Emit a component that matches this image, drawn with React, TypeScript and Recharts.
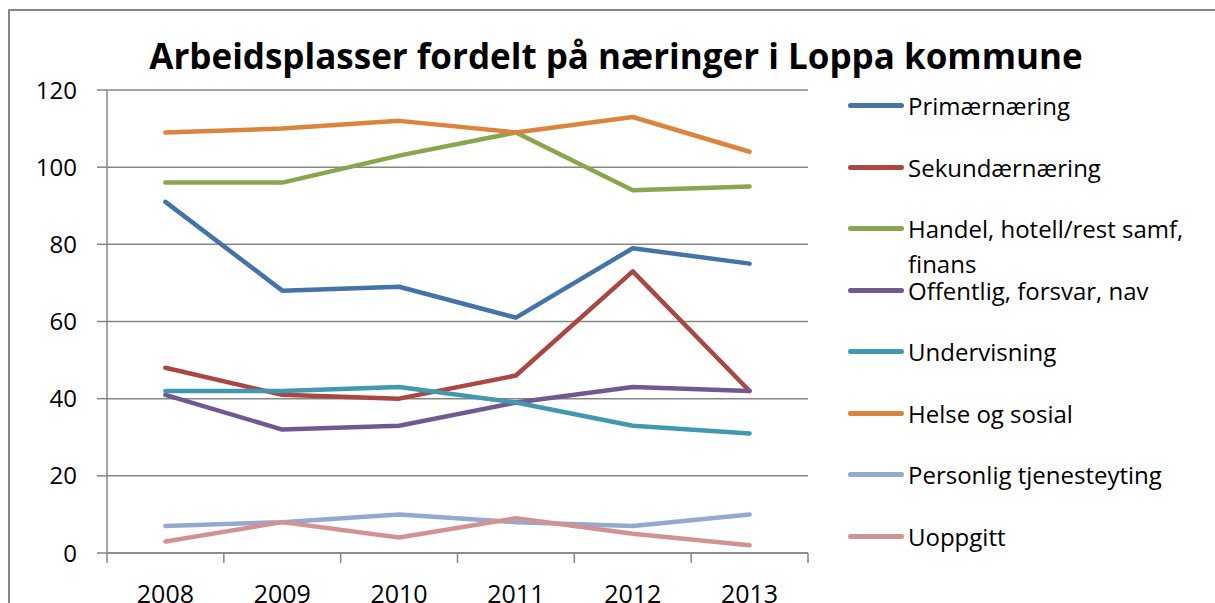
import React from 'react';
import { LineChart, Line, XAxis, YAxis, CartesianGrid } from 'recharts';

const YEARS = ['2008', '2009', '2010', '2011', '2012', '2013'];

const SERIES_NAMES = [
  'Primærnæring',
  'Sekundærnæring',
  'Handel, hotell/rest samf, finans',
  'Offentlig, forsvar, nav',
  'Undervisning',
  'Helse og sosial',
  'Personlig tjenesteyting',
  'Uoppgitt',
];

const primaer = [91, 68, 69, 61, 79, 75];
const sekundaer = [48, 41, 40, 46, 73, 42];
const handel = [96, 96, 103, 109, 94, 95];
const offentlig = [41, 32, 33, 39, 43, 42];
const undervisning = [42, 42, 43, 39, 33, 31];
const helse = [109, 110, 112, 109, 113, 104];
const personlig = [7, 8, 10, 8, 7, 10];
const uoppgitt = [3, 8, 4, 9, 5, 2];

const Y_TICKS = [0, 20, 40, 60, 80, 100, 120];

const COLORS = ['#4572A7', '#AA4643', '#89A54E', '#71588F', '#4198AF', '#DB843D', '#93A9CF', '#D19392'];
const SERIES_VALUES = [primaer, sekundaer, handel, offentlig, undervisning, helse, personlig, uoppgitt];
const KEYS = ['s0', 's1', 's2', 's3', 's4', 's5', 's6', 's7'];

const data = YEARS.map((year, i) => {
  const row: Record<string, string | number> = { year };
  SERIES_VALUES.forEach((vals, s) => {
    row[KEYS[s]] = vals[i];
  });
  return row;
});

const FONT = '"Open Sans", sans-serif';
const GRID = '#868686';

const W = 1215;
const H = 603;
const MARGIN = { top: 90, right: 407, bottom: 0, left: 0 };
const Y_AXIS_W = 107;
const X_AXIS_H = 50;
const PLOT_BOTTOM = H - MARGIN.bottom - X_AXIS_H;
const BAND = (W - MARGIN.left - MARGIN.right - Y_AXIS_W) / YEARS.length;

// year label plus Excel-style tick marks on the band edges
const YearTick = (props: any) => {
  const { x, payload, index } = props;
  const left = x - BAND / 2;
  return (
    <g>
      <line x1={left} x2={left} y1={PLOT_BOTTOM} y2={PLOT_BOTTOM + 10} stroke={GRID} strokeWidth={1.5} />
      {index === YEARS.length - 1 && (
        <line x1={x + BAND / 2} x2={x + BAND / 2} y1={PLOT_BOTTOM} y2={PLOT_BOTTOM + 10} stroke={GRID} strokeWidth={1.5} />
      )}
      <text x={x} y={PLOT_BOTTOM + 50} textAnchor="middle" fill="#000" fontSize={25} fontFamily={FONT}>
        {payload.value}
      </text>
    </g>
  );
};

const LegendList = () => (
  <div style={{ position: 'absolute', left: 848, top: 88, fontFamily: FONT, fontSize: 24, color: '#000' }}>
    {SERIES_NAMES.map((name, i) => (
      <div
        key={name}
        style={{ position: 'absolute', left: 0, top: i * 61.5, display: 'flex', alignItems: 'flex-start', width: 370 }}
      >
        <div
          style={{
            width: 56,
            height: 5,
            borderRadius: 3,
            background: COLORS[i],
            marginTop: 15,
            flexShrink: 0,
          }}
        />
        <div style={{ marginLeft: 4, lineHeight: '35px', width: 300, whiteSpace: 'normal' }}>{name}</div>
      </div>
    ))}
  </div>
);

export default function App() {
  return (
    <div style={{ position: 'absolute', left: 0, top: 0, width: W, height: H, background: '#fff', overflow: 'hidden' }}>
      <div
        style={{
          position: 'absolute',
          left: 8,
          top: 9,
          width: 1250,
          height: 700,
          borderTop: `2px solid ${GRID}`,
          borderLeft: `2px solid ${GRID}`,
        }}
      />
      <div
        style={{
          position: 'absolute',
          left: 0,
          width: 1232,
          top: 31,
          textAlign: 'center',
          fontFamily: FONT,
          fontWeight: 700,
          fontSize: 35,
          color: '#000',
          lineHeight: '50px',
        }}
      >
        Arbeidsplasser fordelt på næringer i Loppa kommune
      </div>
      <div style={{ position: 'absolute', left: 0, top: 0 }}>
        <LineChart width={W} height={H} data={data} margin={MARGIN}>
          <CartesianGrid vertical={false} stroke={GRID} strokeWidth={1.5} />
          <XAxis
            dataKey="year"
            scale="band"
            height={X_AXIS_H}
            axisLine={{ stroke: GRID, strokeWidth: 1.5 }}
            tickLine={false}
            interval={0}
            tick={<YearTick />}
          />
          <YAxis
            width={Y_AXIS_W}
            domain={[0, 120]}
            ticks={Y_TICKS}
            interval={0}
            tickSize={10}
            tickMargin={20}
            axisLine={{ stroke: GRID, strokeWidth: 1.5 }}
            tickLine={{ stroke: GRID, strokeWidth: 1.5 }}
            tick={{ fill: '#000', fontSize: 24, fontFamily: FONT }}
          />
          {KEYS.map((k, i) => (
            <Line
              key={k}
              type="linear"
              dataKey={k}
              name={SERIES_NAMES[i]}
              stroke={COLORS[i]}
              strokeWidth={4.5}
              strokeLinecap="round"
              strokeLinejoin="round"
              dot={false}
              activeDot={false}
              isAnimationActive={false}
            />
          ))}
        </LineChart>
      </div>
      <LegendList />
    </div>
  );
}
